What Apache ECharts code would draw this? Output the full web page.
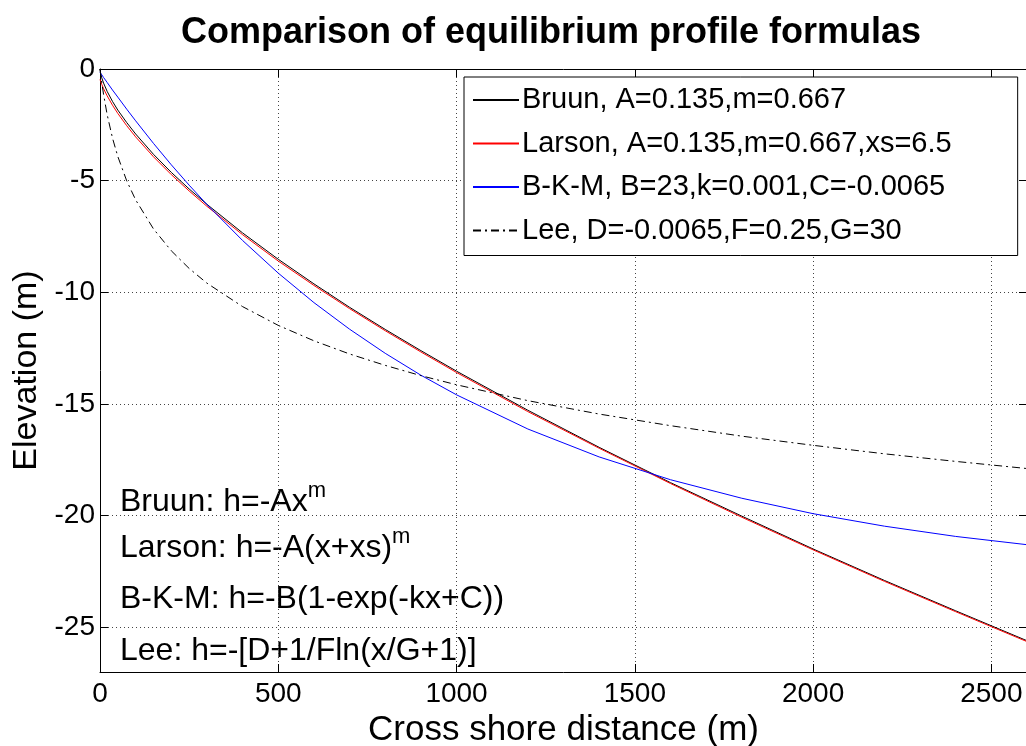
<!DOCTYPE html>
<html>
<head>
<meta charset="utf-8">
<title>Comparison of equilibrium profile formulas</title>
<script src="https://cdn.jsdelivr.net/npm/echarts@6/dist/echarts.min.js"></script>
<style>
  html, body { margin: 0; padding: 0; background: #fff; }
  #chart { width: 1026px; height: 746px; }
</style>
</head>
<body>
<div id="chart"></div>
<script>
// Cross-shore distance (m) at which each profile is sampled
const distance = [0, 2, 5, 10, 20, 35, 50, 75, 100, 150, 200, 250, 300, 400, 500,
  600, 700, 800, 900, 1000, 1200, 1400, 1600, 1800, 2000, 2200, 2400, 2600];

// Elevation (m) of each equilibrium profile
const bruun = [0, -0.21, -0.40, -0.63, -1.00, -1.45, -1.84, -2.40, -2.91, -3.82, -4.63, -5.37,
  -6.06, -7.34, -8.52, -9.62, -10.67, -11.66, -12.61, -13.53, -15.28, -16.94, -18.52, -20.02,
  -21.49, -22.90, -24.26, -25.60];
const larson = [-0.47, -0.56, -0.69, -0.88, -1.20, -1.62, -1.99, -2.54, -3.04, -3.93, -4.73,
  -5.46, -6.15, -7.42, -8.60, -9.69, -10.73, -11.72, -12.67, -13.59, -15.34, -16.98, -18.56,
  -20.07, -21.53, -22.94, -24.30, -25.64];
const bkm = [-0.15, -0.20, -0.26, -0.38, -0.60, -0.94, -1.26, -1.80, -2.32, -3.33, -4.29, -5.20,
  -6.07, -7.68, -9.14, -10.46, -11.65, -12.73, -13.71, -14.59, -16.12, -17.37, -18.39, -19.22,
  -19.91, -20.47, -20.93, -21.30];
const lee = [0, -0.26, -0.62, -1.14, -2.04, -3.09, -3.92, -5.01, -5.86, -7.16, -8.14, -8.93,
  -9.59, -10.64, -11.48, -12.17, -12.76, -13.27, -13.73, -14.14, -14.85, -15.45, -15.97,
  -16.44, -16.85, -17.23, -17.57, -17.89];

// Legend entries and formula notes
const seriesNames = [
  'Bruun, A=0.135,m=0.667',
  'Larson, A=0.135,m=0.667,xs=6.5',
  'B-K-M, B=23,k=0.001,C=-0.0065',
  'Lee, D=-0.0065,F=0.25,G=30'
];
const formulaNotes = [
  'Bruun: h=-Ax{sup|m}',
  'Larson: h=-A(x+xs){sup|m}',
  'B-K-M: h=-B(1-exp(-kx+C))',
  'Lee: h=-[D+1/Fln(x/G+1)]'
];

// Tick labels
const xTicks = [0, 500, 1000, 1500, 2000, 2500];
const yTicks = [0, -5, -10, -15, -20, -25];

const FONT = '"Liberation Sans", Arial, Helvetica, sans-serif';

function pairs(ys) {
  return distance.map((x, i) => [x, ys[i]]);
}

const chart = echarts.init(document.getElementById('chart'), null, { renderer: 'canvas' });

const gridLeft = 100, gridTop = 69, gridWidth = 927, gridHeight = 603;

const baseX = {
  type: 'value', min: 0, max: 2600,
  axisLine: { show: true, onZero: false, lineStyle: { color: '#000', width: 1 } },
  axisTick: { show: true, inside: true, length: 8, customValues: xTicks, lineStyle: { color: '#000' } }
};
const baseY = {
  type: 'value', min: -27, max: 0,
  axisLine: { show: true, onZero: false, lineStyle: { color: '#000', width: 1 } },
  axisTick: { show: true, inside: true, length: 8, customValues: yTicks, lineStyle: { color: '#000' } }
};

const gridDots = { show: true, lineStyle: { color: '#444', width: 1, type: [1, 3] } };

const option = {
  backgroundColor: '#fff',
  animation: false,
  title: {
    text: 'Comparison of equilibrium profile formulas',
    left: 176,
    top: 10,
    textStyle: { fontFamily: FONT, fontSize: 36, fontWeight: 'bold', color: '#000' }
  },
  grid: {
    left: gridLeft, top: gridTop, width: gridWidth, height: gridHeight,
    containLabel: false, outerBoundsMode: 'none'
  },
  legend: {
    orient: 'vertical',
    left: 464,
    top: 77,
    padding: [8, 66, 10, 8],
    itemGap: 13.5,
    itemWidth: 46,
    itemHeight: 2,
    backgroundColor: '#fff',
    borderColor: '#000',
    borderWidth: 1,
    borderRadius: 0,
    data: seriesNames,
    itemStyle: { opacity: 0 },
    textStyle: { fontFamily: FONT, fontSize: 29, lineHeight: 30, color: '#000', padding: [0, 0, 0, -2] }
  },
  xAxis: [
    Object.assign({}, baseX, {
      position: 'bottom',
      name: 'Cross shore distance (m)',
      nameLocation: 'middle',
      nameGap: 33,
      nameTextStyle: { fontFamily: FONT, fontSize: 35, color: '#000' },
      axisLabel: {
        show: true, customValues: xTicks, margin: 8, fontFamily: FONT, fontSize: 28, color: '#000',
        formatter: v => String(v)
      },
      splitLine: gridDots
    }),
    Object.assign({}, baseX, {
      position: 'top',
      axisLabel: { show: false },
      splitLine: { show: false }
    })
  ],
  yAxis: [
    Object.assign({}, baseY, {
      position: 'left',
      name: 'Elevation (m)',
      nameLocation: 'middle',
      nameGap: 56,
      nameTextStyle: { fontFamily: FONT, fontSize: 34, color: '#000' },
      axisLabel: {
        show: true, customValues: yTicks, margin: 5, fontFamily: FONT, fontSize: 28, color: '#000',
        formatter: v => String(v)
      },
      splitLine: gridDots
    }),
    Object.assign({}, baseY, {
      position: 'right',
      axisLabel: { show: false },
      splitLine: { show: false }
    })
  ],
  series: [
    {
      name: seriesNames[0], type: 'line', data: pairs(bruun), showSymbol: false, symbol: 'none',
      lineStyle: { color: '#000', width: 1 }, itemStyle: { color: '#000' }
    },
    {
      name: seriesNames[1], type: 'line', data: pairs(larson), showSymbol: false, symbol: 'none',
      lineStyle: { color: '#ff0000', width: 1 }, itemStyle: { color: '#ff0000' }
    },
    {
      name: seriesNames[2], type: 'line', data: pairs(bkm), showSymbol: false, symbol: 'none',
      lineStyle: { color: '#0000ff', width: 1 }, itemStyle: { color: '#0000ff' }
    },
    {
      name: seriesNames[3], type: 'line', data: pairs(lee), showSymbol: false, symbol: 'none',
      lineStyle: { color: '#000', width: 1, type: [8, 4, 2, 4] }, itemStyle: { color: '#000' }
    }
  ],
  graphic: formulaNotes.map((txt, i) => ({
    type: 'text',
    left: 120,
    top: [480, 526, 577, 629][i],
    style: {
      text: txt,
      fontFamily: FONT,
      fontSize: 32,
      lineHeight: 44,
      fill: '#000',
      rich: {
        sup: { fontFamily: FONT, fontSize: 22, lineHeight: 4, fill: '#000', verticalAlign: 'top' }
      }
    }
  }))
};

chart.setOption(option);
</script>
</body>
</html>
